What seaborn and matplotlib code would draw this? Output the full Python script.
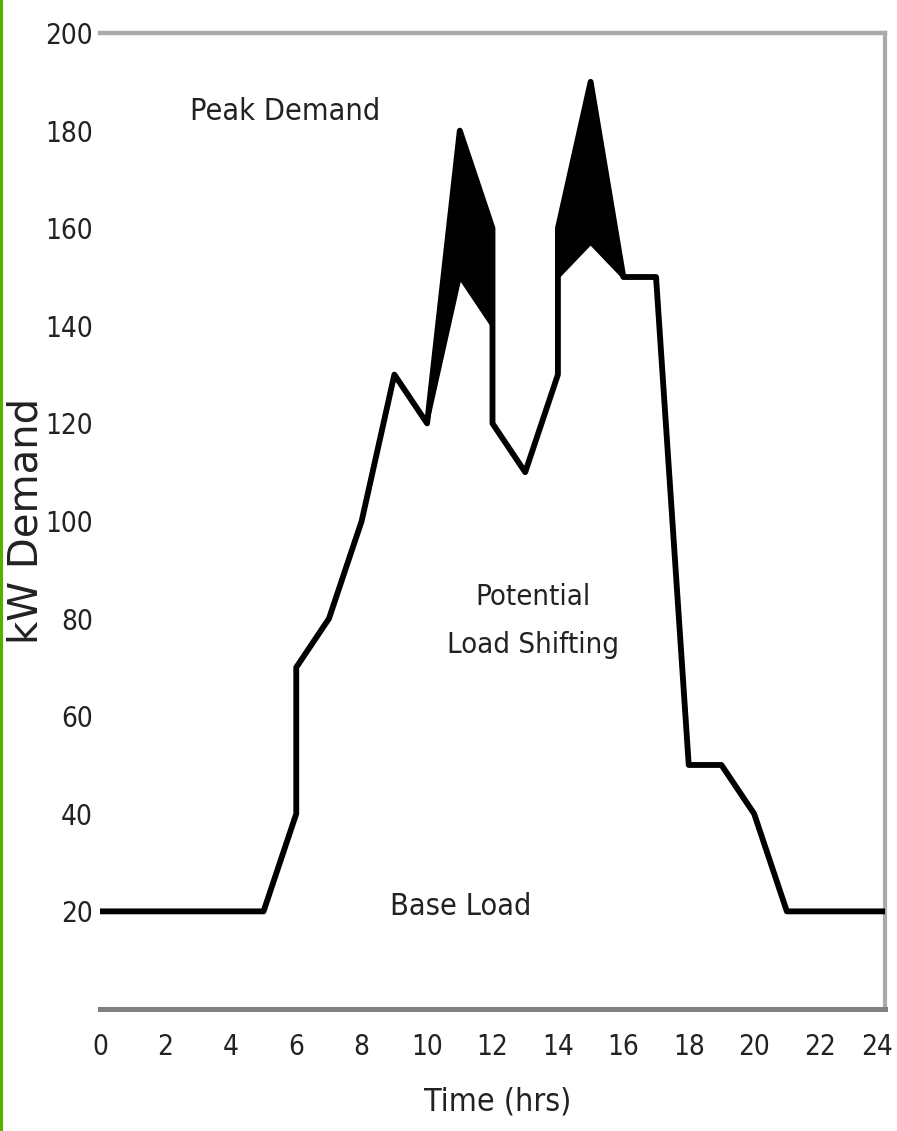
import matplotlib
matplotlib.use('Agg')
import matplotlib.pyplot as plt
import matplotlib.transforms as mtransforms
import seaborn as sns
import pandas as pd

# demand profile (outline of the load curve)
hours = [0, 5, 6, 6, 7, 8, 9, 10, 11, 12, 12, 13, 14, 14, 15, 16, 17, 18, 19, 20, 21, 24]
demand = [20, 20, 40, 70, 80, 100, 130, 120, 180, 160, 120, 110, 130, 160, 190, 150, 150, 50, 50, 40, 20, 20]

# peak shaving segments: original peak vs shifted load
peak1_hours = [10, 11, 12]
peak1_top = [120, 180, 160]
peak1_shift = [120, 150, 140]
peak2_hours = [14, 15, 16]
peak2_top = [160, 190, 150]
peak2_shift = [150, 157, 150]

x_ticks = list(range(0, 25, 2))
y_ticks = list(range(20, 201, 20))

sns.set_style('white')
plt.rcParams['font.family'] = ['DejaVu Sans']
plt.rcParams['font.stretch'] = 'condensed'
text_col = '#222222'

fig = plt.figure(figsize=(8.97, 11.31), dpi=100)
ax = fig.add_axes([0.1115, 0.1079, 0.8751, 0.8629])

df = pd.DataFrame({'hour': hours, 'kw': demand})
sns.lineplot(data=df, x='hour', y='kw', estimator=None, sort=False,
             color='black', lw=4.2, ax=ax, zorder=4)

for hx, top, low in [(peak1_hours, peak1_top, peak1_shift),
                     (peak2_hours, peak2_top, peak2_shift)]:
    ax.fill_between(hx, low, top, color='black', lw=0, zorder=3)
    seg = pd.DataFrame({'hour': hx, 'kw': low})
    sns.lineplot(data=seg, x='hour', y='kw', estimator=None, sort=False,
                 color='black', lw=2.8, ax=ax, zorder=4)

ax.set_xlim(0, 24)
ax.set_ylim(0, 200)
ax.set_xticks(x_ticks)
ax.set_yticks(y_ticks)
ax.set_xticks([8], minor=True)
ax.tick_params(axis='x', which='major', length=0, pad=17, labelsize=20, labelcolor=text_col)
ax.tick_params(axis='x', which='minor', direction='inout', length=14, width=1, color='#aaaaaa')
ax.tick_params(axis='y', direction='in', length=8, width=2, color='#aaaaaa',
               pad=5, labelsize=20, labelcolor=text_col)

# nudge the last x label so it stays inside the picture
last = ax.get_xticklabels()[-1]
last.set_transform(last.get_transform() +
                   mtransforms.ScaledTranslation(-6 / 72, 0, fig.dpi_scale_trans))

ax.spines['left'].set_visible(False)
ax.spines['top'].set_color('#aaaaaa')
ax.spines['top'].set_linewidth(3.2)
ax.spines['right'].set_color('#aaaaaa')
ax.spines['right'].set_linewidth(3)
ax.spines['bottom'].set_color('#808080')
ax.spines['bottom'].set_linewidth(3.6)

ax.set_xlabel('Time (hrs)', fontsize=23, color=text_col)
ax.xaxis.set_label_coords(0.506, -0.079)
ax.set_ylabel('kW Demand', fontsize=29, color=text_col, fontstretch='normal')
ax.yaxis.set_label_coords(-0.068, 0.5)

ax.text(5.66, 184, 'Peak Demand', ha='center', va='center', fontsize=22, color=text_col)
ax.text(13.24, 79.5, 'Potential\nLoad Shifting', ha='center', va='center',
        fontsize=21, color=text_col, linespacing=1.9)
ax.text(11.04, 21, 'Base Load', ha='center', va='center', fontsize=22, color=text_col)

# green frame line at the left edge of the picture
fig.add_artist(plt.Line2D([0.0012, 0.0012], [0, 1], transform=fig.transFigure,
                          color='#55b000', lw=2.2))

fig.savefig('out.png', dpi=100)
